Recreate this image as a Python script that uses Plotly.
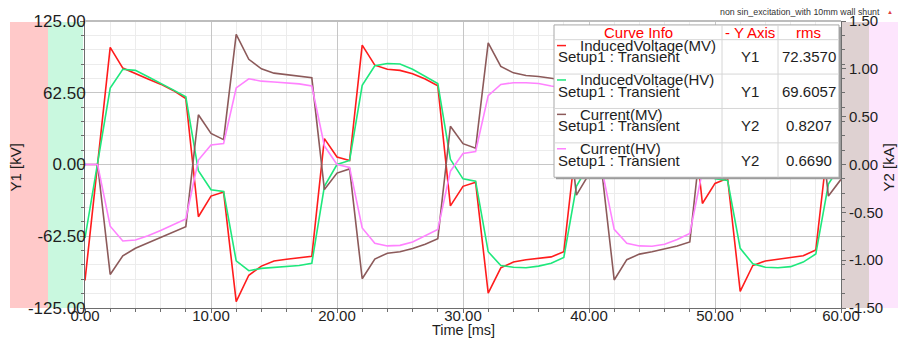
import plotly.graph_objects as go

# ---------------- data ----------------
time_ms = list(range(0, 61))

induced_voltage_mv = [
    -101, 0, 102, 84, 79, 74.5, 70, 64.5, 57.5, -45.5,
    -27.5, -24, -119.5, -96.5, -88.5, -84, -82.5, -81.5, -80, 22.5,
    6.5, 3.5, 104, 86.5, 83, 82, 79, 74.5, 68.5, -36,
    -19, -15.5, -112, -90, -85, -83, -82, -80.5, -76, 21,
    6, 3, 104, 87, 83.5, 82, 79, 75, 68.5, -34,
    -16.5, -12, -110.5, -88, -84, -82.5, -81.5, -79.5, -74.5, 22,
    6.5,
]

induced_voltage_hv = [
    -64, 0, 66.5, 83, 82, 76.5, 71, 65, 59, -5.5,
    -22, -23.5, -84, -92.5, -90.5, -89.5, -89, -88, -86, -19,
    0, 3.5, 69, 86, 88, 87.5, 83, 77, 70.5, 4.5,
    -12.5, -14.5, -76, -88, -89.5, -90, -88.5, -86, -81, -19,
    0, 3.5, 69, 86, 88, 87.5, 83, 77, 70.5, 4.5,
    -12.5, -14, -73, -86.5, -89.5, -90, -89, -85, -78, -17,
    0,
]

current_mv = [
    0, 0, -1.15, -0.955, -0.875, -0.82, -0.76, -0.705, -0.65, 0.52,
    0.325, 0.26, 1.36, 1.10, 1.00, 0.955, 0.937, 0.923, 0.906, -0.262,
    -0.09, -0.046, -1.194, -0.988, -0.927, -0.912, -0.878, -0.834, -0.776, 0.40,
    0.218, 0.17, 1.272, 1.026, 0.958, 0.93, 0.92, 0.902, 0.88, -0.32,
    -0.10, -0.05, -1.207, -0.995, -0.937, -0.912, -0.885, -0.851, -0.81, 0.40,
    0.22, 0.17, 1.27, 1.03, 0.96, 0.93, 0.92, 0.90, 0.88, -0.33,
    -0.155,
]

current_hv = [
    0, 0, -0.645, -0.80, -0.79, -0.745, -0.69, -0.63, -0.57, 0.046,
    0.204, 0.218, 0.80, 0.896, 0.871, 0.862, 0.853, 0.843, 0.82, 0.195,
    0.0, -0.03, -0.663, -0.824, -0.851, -0.845, -0.81, -0.748, -0.68, -0.07,
    0.115, 0.136, 0.72, 0.837, 0.855, 0.855, 0.847, 0.82, 0.80, 0.195,
    0.0, -0.035, -0.678, -0.824, -0.851, -0.855, -0.834, -0.783, -0.72, -0.07,
    0.115, 0.136, 0.72, 0.837, 0.855, 0.855, 0.847, 0.82, 0.80, 0.195,
    0.0,
]

x_ticks = [0, 10, 20, 30, 40, 50, 60]
x_tick_text = ["0.00", "10.00", "20.00", "30.00", "40.00", "50.00", "60.00"]
y1_ticks = [-125, -62.5, 0, 62.5, 125]
y1_tick_text = ["-125.00", "-62.50", "0.00", "62.50", "125.00"]
y2_ticks = [-1.5, -1.0, -0.5, 0, 0.5, 1.0, 1.5]
y2_tick_text = ["-1.50", "-1.00", "-0.50", "0.00", "0.50", "1.00", "1.50"]

curve_names = ["InducedVoltage(MV)", "InducedVoltage(HV)", "Current(MV)", "Current(HV)"]
curve_axes = ["Y1", "Y1", "Y2", "Y2"]
curve_rms = ["72.3570", "69.6057", "0.8207", "0.6690"]
curve_colors = ["#ff1c1c", "#1ee87c", "#8c5a5a", "#ff82ff"]
setup_label = "Setup1 : Transient"

# ---------------- geometry helpers ----------------
W, H = 898, 342
L, R, T, B = 85, 57, 16, 34
PW, PH = W - L - R, H - T - B
FONT = "Arial, Liberation Sans, sans-serif"
TXT = "#1e1e1e"


def px(x):
    return (x - L) / PW


def py(y):
    return (H - B - y) / PH


fig = go.Figure()

series = [
    (induced_voltage_mv, "y"),
    (induced_voltage_hv, "y"),
    (current_mv, "y2"),
    (current_hv, "y2"),
]
for (vals, ax), name, col in zip(series, curve_names, curve_colors):
    fig.add_trace(go.Scatter(
        x=time_ms, y=vals, yaxis=ax, mode="lines", name=name,
        line=dict(color=col, width=1.6), showlegend=False,
    ))

shapes = []
annotations = []

# colour bands beside the value axes
for x0, x1, col in [(10, 48, "#ffc9c9"), (48, 83, "#c9f8df"),
                    (842, 869, "#ded1d1"), (869, 898, "#fde5fd")]:
    shapes.append(dict(type="rect", xref="paper", yref="paper",
                       x0=px(x0), x1=px(x1), y0=py(308), y1=py(17),
                       fillcolor=col, line=dict(width=0), layer="below"))

# top frame line
shapes.append(dict(type="line", xref="paper", yref="paper",
                   x0=0, x1=1, y0=1, y1=1,
                   line=dict(color="#bdbdbd", width=2), layer="above"))

# curve info table
bx0, bx1, by0, by1 = 554, 839, 20, 175
shapes.append(dict(type="rect", xref="paper", yref="paper",
                   x0=px(bx0 + 2), x1=px(bx1 + 2), y0=py(by1 + 2), y1=py(by0 + 2),
                   fillcolor="#9c9c9c", line=dict(width=0), layer="above"))
shapes.append(dict(type="rect", xref="paper", yref="paper",
                   x0=px(bx0), x1=px(bx1), y0=py(by1), y1=py(by0),
                   fillcolor="white", line=dict(color="#a8a8a8", width=1), layer="above"))
for yy in [35, 70, 105, 140]:
    shapes.append(dict(type="line", xref="paper", yref="paper",
                       x0=px(bx0), x1=px(bx1), y0=py(yy), y1=py(yy),
                       line=dict(color="#d6d6d6", width=1), layer="above"))
for xx in [722, 778]:
    shapes.append(dict(type="line", xref="paper", yref="paper",
                       x0=px(xx), x1=px(xx), y0=py(by0), y1=py(by1),
                       line=dict(color="#d6d6d6", width=1), layer="above"))

hdr_font = dict(family=FONT, size=15, color="#ff0000")
for text, cx in [("Curve Info", 638), ("- Y Axis", 750), ("rms", 808)]:
    annotations.append(dict(text=text, xref="paper", yref="paper",
                            x=px(cx), y=py(27.5), xanchor="center", yanchor="middle",
                            showarrow=False, font=hdr_font))

row_font = dict(family=FONT, size=15, color=TXT)
for i, (name, axis_name, rms, col) in enumerate(zip(curve_names, curve_axes, curve_rms, curve_colors)):
    top = 35 + 35 * i
    shapes.append(dict(type="line", xref="paper", yref="paper",
                       x0=px(557), x1=px(566), y0=py(top + 6), y1=py(top + 6),
                       line=dict(color=col, width=1.5), layer="above"))
    annotations.append(dict(text=name, xref="paper", yref="paper",
                            x=px(578), y=py(top + 6), xanchor="left", yanchor="middle",
                            showarrow=False, font=row_font))
    annotations.append(dict(text=setup_label, xref="paper", yref="paper",
                            x=px(556), y=py(top + 17.5), xanchor="left", yanchor="middle",
                            showarrow=False, font=row_font))
    annotations.append(dict(text=axis_name, xref="paper", yref="paper",
                            x=px(750), y=py(top + 17.5), xanchor="center", yanchor="middle",
                            showarrow=False, font=row_font))
    annotations.append(dict(text=rms, xref="paper", yref="paper",
                            x=px(808.5), y=py(top + 17.5), xanchor="center", yanchor="middle",
                            showarrow=False, font=row_font))

# axis titles
annotations.append(dict(text="Y1 [kV]", xref="paper", yref="paper", x=px(15), y=py(165),
                        xanchor="center", yanchor="middle", textangle=-90, showarrow=False,
                        font=dict(family=FONT, size=15, color=TXT)))
annotations.append(dict(text="Y2 [kA]", xref="paper", yref="paper", x=px(888), y=py(165),
                        xanchor="center", yanchor="middle", textangle=-90, showarrow=False,
                        font=dict(family=FONT, size=15, color=TXT)))
annotations.append(dict(text="Time [ms]", xref="paper", yref="paper", x=px(463), y=py(330),
                        xanchor="center", yanchor="middle", showarrow=False,
                        font=dict(family=FONT, size=14.5, color=TXT)))

# plot caption at top right
annotations.append(dict(text="non sin_excitation_with 10mm wall shunt", xref="paper", yref="paper",
                        x=px(882), y=py(7), xanchor="right", yanchor="middle", showarrow=False,
                        font=dict(family=FONT, size=8.8, color="#333333")))
annotations.append(dict(text="▲", xref="paper", yref="paper",
                        x=px(890), y=py(6.5), xanchor="center", yanchor="middle", showarrow=False,
                        font=dict(family=FONT, size=6, color="#e04040")))

AX = "#6e6e6e"
fig.update_layout(
    width=W, height=H, autosize=False,
    margin=dict(l=L, r=R, t=T, b=B, pad=0),
    paper_bgcolor="white", plot_bgcolor="white",
    showlegend=False,
    shapes=shapes, annotations=annotations,
    xaxis=dict(
        range=[0, 60], tickmode="array", tickvals=x_ticks, ticktext=x_tick_text,
        ticks="outside", ticklen=4, tickcolor=AX, ticklabelstandoff=-10,
        showline=True, linecolor=AX, linewidth=1, zeroline=False,
        showgrid=True, gridcolor="#c6c6c6", gridwidth=1,
        minor=dict(dtick=2, tick0=0, ticks="outside", ticklen=3, tickcolor=AX,
                   showgrid=True, gridcolor="#ececec", gridwidth=1),
        tickfont=dict(family=FONT, size=15, color=TXT),
    ),
    yaxis=dict(
        range=[-125, 125], tickmode="array", tickvals=y1_ticks, ticktext=y1_tick_text,
        ticks="outside", ticklen=4, tickcolor=AX, ticklabelstandoff=-9,
        showline=True, linecolor=AX, linewidth=1, zeroline=False,
        showgrid=True, gridcolor="#c6c6c6", gridwidth=1,
        minor=dict(dtick=12.5, tick0=-125, ticks="outside", ticklen=3, tickcolor=AX,
                   showgrid=True, gridcolor="#ececec", gridwidth=1),
        tickfont=dict(family=FONT, size=17, color=TXT),
    ),
    yaxis2=dict(
        overlaying="y", side="right", anchor="x",
        range=[-1.5, 1.5], tickmode="array", tickvals=y2_ticks, ticktext=y2_tick_text,
        ticks="outside", ticklen=4, tickcolor=AX,
        showline=True, linecolor=AX, linewidth=1, zeroline=False, showgrid=False,
        minor=dict(dtick=0.15, tick0=-1.5, ticks="outside", ticklen=3, tickcolor=AX, showgrid=False),
        tickfont=dict(family=FONT, size=15, color=TXT),
    ),
)

fig.write_html("out.html")
